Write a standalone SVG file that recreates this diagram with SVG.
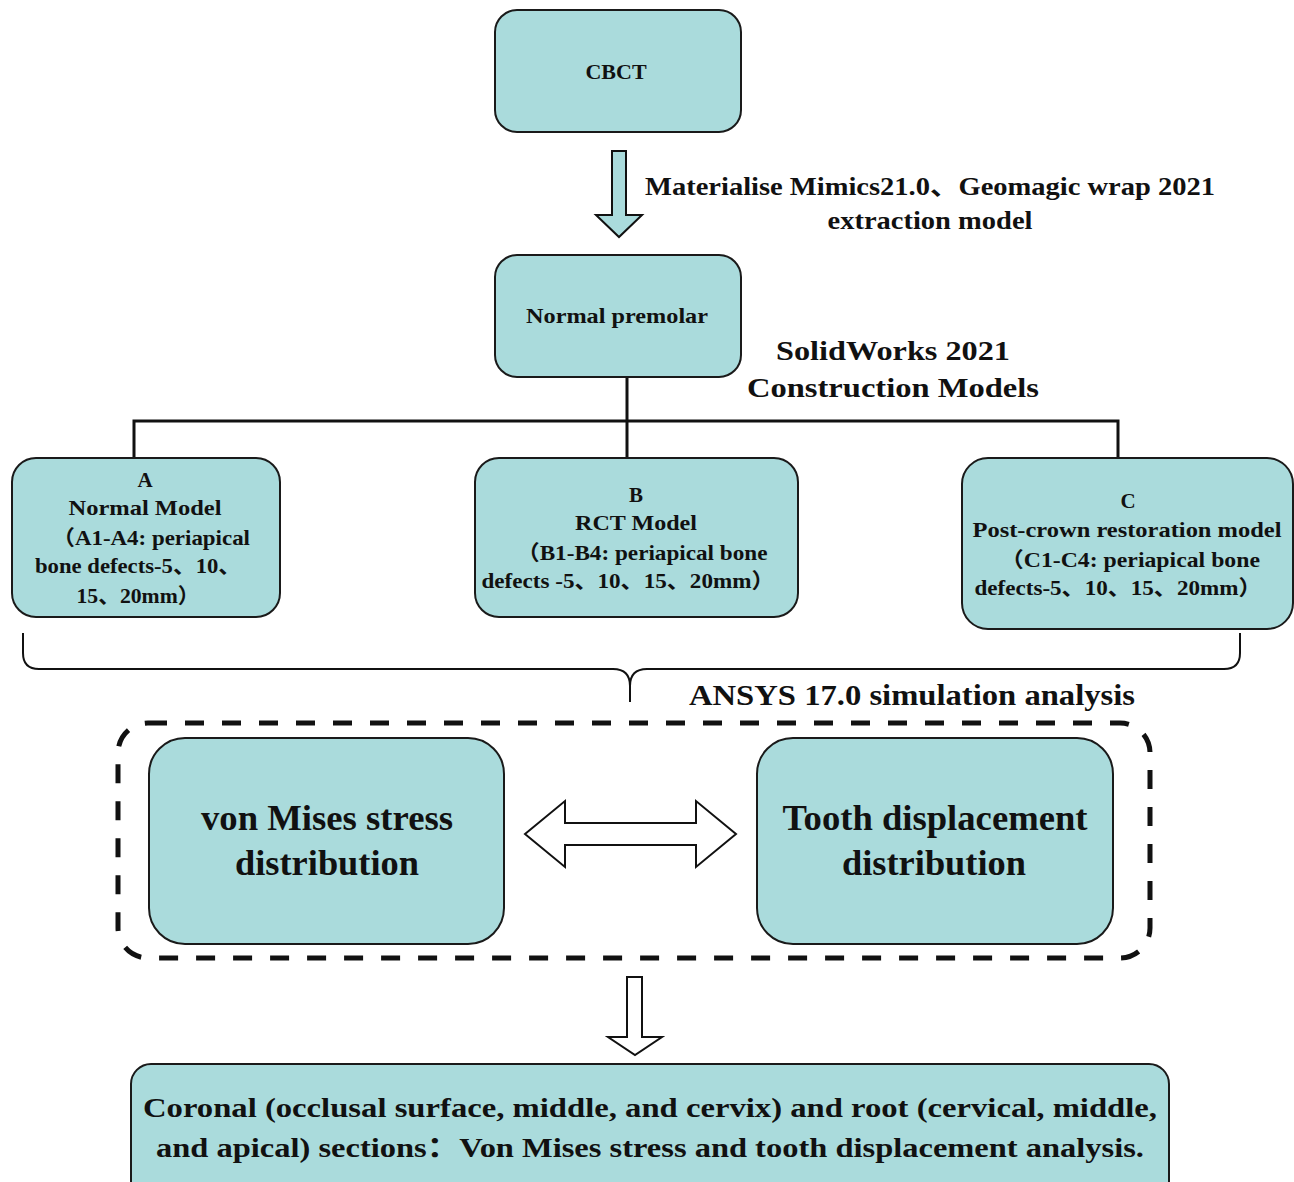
<svg xmlns="http://www.w3.org/2000/svg" width="1294" height="1182" viewBox="0 0 1294 1182">
<style>
.box{fill:#aadbdc;stroke:#1a1a1a;stroke-width:2}
.t{font-family:"Liberation Serif","Noto Sans CJK SC",serif;font-weight:bold;fill:#111;text-anchor:middle}
.s{font-size:21px}
.ln{fill:none;stroke:#111;stroke-width:3}
.br{fill:none;stroke:#111;stroke-width:2}
.blk{stroke:#111;stroke-width:2;stroke-linejoin:miter}
</style>
<rect width="1294" height="1182" fill="#fff"/>

<g id="connectors">
  <polygon class="blk" fill="#aadbdc" points="612,151 626,151 626,215 642,215 619,237 596,215 612,215"/>
  <polyline class="ln" points="627,377 627,421"/>
  <polyline class="ln" points="134,458 134,421 1118,421 1118,458"/>
  <line class="ln" x1="627" y1="421" x2="627" y2="458"/>
  <path class="br" d="M23,633 V653 Q23,669 39,669 H613 Q630,669 630,686 V702 M630,686 Q630,669 647,669 H1224 Q1240,669 1240,653 V633"/>
  <rect x="118" y="723" width="1032" height="235" rx="30" ry="30" fill="none" stroke="#111" stroke-width="5" stroke-dasharray="19 18"/>
  <polygon class="blk" fill="#fff" points="525,834 565,801 565,823 696,823 696,801 736,834 696,867 696,845 565,845 565,867"/>
  <polygon class="blk" fill="#fff" points="627,977 642,977 642,1037 662,1037 635,1055 608,1037 627,1037"/>
</g>

<g id="cbct">
  <rect class="box" x="495" y="10" width="246" height="122" rx="22"/>
  <text class="t" x="616" y="79" font-size="22">CBCT</text>
</g>
<g id="label-mimics">
  <text class="t" x="930" y="195" font-size="25" textLength="570" lengthAdjust="spacingAndGlyphs">Materialise Mimics21.0、Geomagic wrap 2021</text>
  <text class="t" x="930" y="229" font-size="25" textLength="205" lengthAdjust="spacingAndGlyphs">extraction model</text>
</g>
<g id="normal-premolar">
  <rect class="box" x="495" y="255" width="246" height="122" rx="22"/>
  <text class="t" x="617" y="323" font-size="21" textLength="182" lengthAdjust="spacingAndGlyphs">Normal premolar</text>
</g>
<g id="label-solidworks">
  <text class="t" x="893" y="360" font-size="28" textLength="234" lengthAdjust="spacingAndGlyphs">SolidWorks 2021</text>
  <text class="t" x="893" y="397" font-size="28" textLength="292" lengthAdjust="spacingAndGlyphs">Construction Models</text>
</g>
<g id="node-a">
  <rect class="box" x="12" y="458" width="268" height="159" rx="24"/>
  <text class="t s" x="145" y="487">A</text>
  <text class="t s" x="145" y="515" textLength="153" lengthAdjust="spacingAndGlyphs">Normal Model</text>
  <text class="t s" x="151" y="545" textLength="198" lengthAdjust="spacingAndGlyphs">（A1-A4: periapical</text>
  <text class="t s" x="138" y="573" textLength="206" lengthAdjust="spacingAndGlyphs">bone defects-5、10、</text>
  <text class="t s" x="138" y="603" textLength="123" lengthAdjust="spacingAndGlyphs">15、20mm）</text>
</g>
<g id="node-b">
  <rect class="box" x="475" y="458" width="323" height="159" rx="24"/>
  <text class="t s" x="636" y="502">B</text>
  <text class="t s" x="636" y="530" textLength="122" lengthAdjust="spacingAndGlyphs">RCT Model</text>
  <text class="t s" x="642" y="560" textLength="251" lengthAdjust="spacingAndGlyphs">（B1-B4: periapical bone</text>
  <text class="t s" x="628" y="588" textLength="293" lengthAdjust="spacingAndGlyphs">defects -5、10、15、20mm）</text>
</g>
<g id="node-c">
  <rect class="box" x="962" y="458" width="331" height="171" rx="26"/>
  <text class="t s" x="1128" y="508">C</text>
  <text class="t s" x="1127" y="537" textLength="309" lengthAdjust="spacingAndGlyphs">Post-crown restoration model</text>
  <text class="t s" x="1130" y="567" textLength="260" lengthAdjust="spacingAndGlyphs">（C1-C4: periapical bone</text>
  <text class="t s" x="1118" y="595" textLength="287" lengthAdjust="spacingAndGlyphs">defects-5、10、15、20mm）</text>
</g>
<g id="label-ansys">
  <text class="t" x="912" y="705" font-size="29" textLength="446" lengthAdjust="spacingAndGlyphs">ANSYS 17.0 simulation analysis</text>
</g>
<g id="von-mises">
  <rect class="box" x="149" y="738" width="355" height="206" rx="36"/>
  <text class="t" x="327" y="830" font-size="35" textLength="252" lengthAdjust="spacingAndGlyphs">von Mises stress</text>
  <text class="t" x="327" y="875" font-size="35" textLength="184" lengthAdjust="spacingAndGlyphs">distribution</text>
</g>
<g id="tooth-displacement">
  <rect class="box" x="757" y="738" width="356" height="206" rx="36"/>
  <text class="t" x="935" y="830" font-size="35" textLength="305" lengthAdjust="spacingAndGlyphs">Tooth displacement</text>
  <text class="t" x="934" y="875" font-size="35" textLength="184" lengthAdjust="spacingAndGlyphs">distribution</text>
</g>
<g id="sections">
  <rect class="box" x="131" y="1064" width="1038" height="140" rx="20"/>
  <text class="t" x="650" y="1117" font-size="28" textLength="1014" lengthAdjust="spacingAndGlyphs">Coronal (occlusal surface, middle, and cervix) and root (cervical, middle,</text>
  <text class="t" x="650" y="1157" font-size="28" textLength="988" lengthAdjust="spacingAndGlyphs">and apical) sections：Von Mises stress and tooth displacement analysis.</text>
</g>
</svg>
